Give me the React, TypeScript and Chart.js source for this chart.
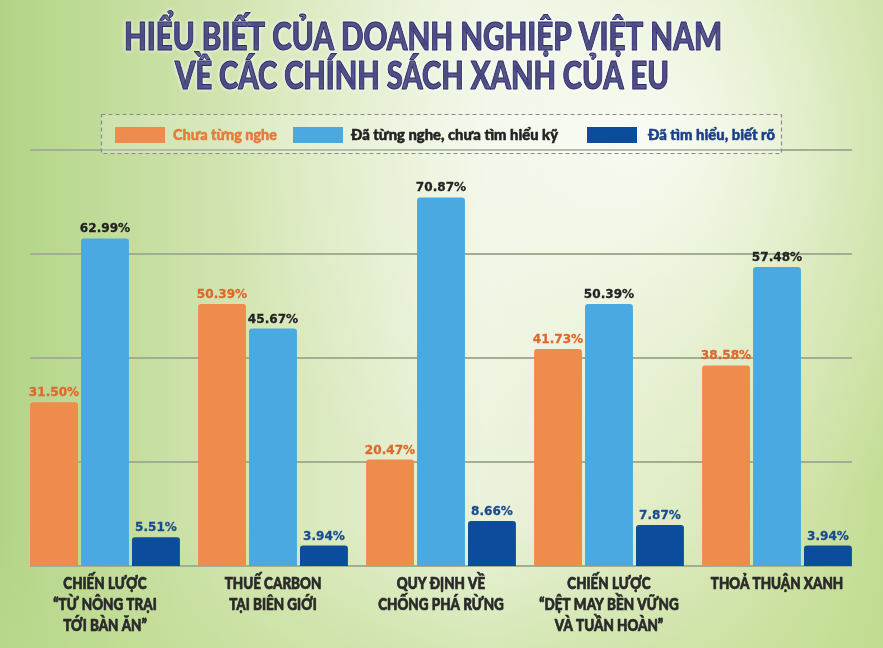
import React, { useEffect, useRef } from "react";
import { Chart, registerables } from "chart.js";
Chart.register(...registerables);

const titleLines = ["HIỂU BIẾT CỦA DOANH NGHIỆP VIỆT NAM", "VỀ CÁC CHÍNH SÁCH XANH CỦA EU"];
const categories = [
  ["CHIẾN LƯỢC", "“TỪ NÔNG TRẠI", "TỚI BÀN ĂN”"],
  ["THUẾ CARBON", "TẠI BIÊN GIỚI"],
  ["QUY ĐỊNH VỀ", "CHỐNG PHÁ RỪNG"],
  ["CHIẾN LƯỢC", "“DỆT MAY BỀN VỮNG", "VÀ TUẦN HOÀN”"],
  ["THOẢ THUẬN XANH"],
];
const seriesNames = ["Chưa từng nghe", "Đã từng nghe, chưa tìm hiểu kỹ", "Đã tìm hiểu, biết rõ"];
const neverHeard = [31.5, 50.39, 20.47, 41.73, 38.58];
const heardNotResearched = [62.99, 45.67, 70.87, 50.39, 57.48];
const researched = [5.51, 3.94, 8.66, 7.87, 3.94];
const yTicks = [0, 20, 40, 60, 80];

const barColors = ["#ef8b4c", "#4aa9e0", "#0b4c9c"];
const valueColors = ["#e0662a", "#222222", "#1a4b8e"];
const legendTextColors = ["#e57a3a", "#222222", "#1b3f8a"];

function heavyText(ctx: CanvasRenderingContext2D, text: string, x: number, y: number, maxW: number, stroke: number) {
  ctx.fillText(text, x, y, maxW);
  if (stroke > 0) {
    ctx.lineWidth = stroke;
    ctx.strokeStyle = ctx.fillStyle as string;
    ctx.lineJoin = "round";
    ctx.strokeText(text, x, y, maxW);
  }
}

const decorPlugin = {
  id: "decor",
  beforeDraw(chart: any) {
    const { ctx, width, height } = chart;
    ctx.save();
    const g = ctx.createLinearGradient(0, 0, width, 0);
    g.addColorStop(0, "#b3d487");
    g.addColorStop(0.3, "#d6e7b6");
    g.addColorStop(0.55, "#eaf2da");
    g.addColorStop(0.8, "#dbe9bb");
    g.addColorStop(1, "#c3dd94");
    ctx.fillStyle = g;
    ctx.fillRect(0, 0, width, height);
    const r = ctx.createRadialGradient(640, 140, 10, 640, 140, 420);
    r.addColorStop(0, "rgba(255,255,255,0.75)");
    r.addColorStop(0.5, "rgba(255,255,255,0.3)");
    r.addColorStop(1, "rgba(255,255,255,0)");
    ctx.fillStyle = r;
    ctx.fillRect(0, 0, width, height);
    const b = ctx.createLinearGradient(0, height - 120, 0, height);
    b.addColorStop(0, "rgba(190,220,140,0)");
    b.addColorStop(1, "rgba(190,220,140,0.45)");
    ctx.fillStyle = b;
    ctx.fillRect(0, height - 120, width, 120);
    ctx.restore();
  },
  beforeDatasetsDraw(chart: any) {
    const { ctx, chartArea } = chart;
    const y = chart.scales.y;
    ctx.save();
    ctx.strokeStyle = "#a2ad92";
    ctx.lineWidth = 2;
    yTicks.forEach((t) => {
      const py = Math.round(y.getPixelForValue(t));
      ctx.beginPath();
      ctx.moveTo(chartArea.left + 9, py);
      ctx.lineTo(chartArea.right - 9, py);
      ctx.stroke();
    });
    ctx.restore();
  },
  afterDatasetsDraw(chart: any) {
    const { ctx } = chart;
    ctx.save();
    // value labels
    ctx.font = "bold 13px 'DejaVu Sans'";
    ctx.textAlign = "center";
    ctx.textBaseline = "alphabetic";
    chart.data.datasets.forEach((ds: any, i: number) => {
      const meta = chart.getDatasetMeta(i);
      ctx.fillStyle = valueColors[i];
      meta.data.forEach((bar: any, j: number) => {
        const t = ds.data[j].toFixed(2) + "%";
        heavyText(ctx, t, bar.x, bar.y - 6, ctx.measureText(t).width * 0.93, 0.3);
      });
    });
    // category labels
    const xs = chart.scales.x;
    ctx.fillStyle = "#2a2a2a";
    ctx.font = "900 16px Lato, Roboto, 'Open Sans'";
    categories.forEach((lines, i) => {
      const cx = xs.getPixelForValue(i);
      lines.forEach((ln, k) => {
        heavyText(ctx, ln, cx, 589 + k * 21, ctx.measureText(ln).width * 0.84, 0.7);
      });
    });
    // title
    ctx.font = "900 37px Lato, Roboto, 'Open Sans'";
    ctx.fillStyle = "#2b2b6c";
    ctx.shadowColor = "rgba(255,255,255,0.9)";
    ctx.shadowBlur = 4;
    heavyText(ctx, titleLines[0], 423, 50, 598, 1);
    heavyText(ctx, titleLines[1], 422, 89, 494, 1);
    ctx.shadowBlur = 0;
    // legend box
    ctx.fillStyle = "rgba(255,255,255,0.2)";
    ctx.fillRect(101, 114, 680, 39);
    ctx.setLineDash([4, 3]);
    ctx.strokeStyle = "#8a8a8a";
    ctx.lineWidth = 1.2;
    ctx.strokeRect(101.5, 114.5, 680, 39);
    ctx.setLineDash([]);
    const sw = [115, 293, 587];
    const tx = [173, 351, 648];
    const tw = [104, 207, 127];
    ctx.font = "900 15px Lato, Roboto, 'Open Sans'";
    ctx.textAlign = "left";
    ctx.textBaseline = "middle";
    seriesNames.forEach((n, i) => {
      ctx.fillStyle = barColors[i];
      ctx.fillRect(sw[i], 127, 50, 16);
      ctx.fillStyle = legendTextColors[i];
      heavyText(ctx, n, tx[i], 135, tw[i], 0.5);
    });
    ctx.restore();
  },
};

export default function App() {
  const ref = useRef<HTMLCanvasElement>(null);
  useEffect(() => {
    document.body.style.margin = "0";
    const chart = new Chart(ref.current!, {
      type: "bar",
      data: {
        labels: categories as any,
        datasets: [neverHeard, heardNotResearched, researched].map((d, i) => ({
          label: seriesNames[i],
          data: d,
          backgroundColor: barColors[i],
          borderRadius: { topLeft: 3, topRight: 3, bottomLeft: 0, bottomRight: 0 },
          borderSkipped: "bottom",
          barPercentage: 0.94,
          categoryPercentage: 0.91,
        })),
      },
      options: {
        responsive: false,
        animation: false,
        layout: { padding: { left: 21, right: 22, top: 150, bottom: 82 } },
        plugins: { legend: { display: false }, tooltip: { enabled: false }, title: { display: false } },
        scales: {
          x: { display: false },
          y: { display: false, min: 0, max: 80 },
        },
      },
      plugins: [decorPlugin],
    });
    return () => chart.destroy();
  }, []);
  return <canvas ref={ref} width={883} height={648} style={{ display: "block" }} />;
}
